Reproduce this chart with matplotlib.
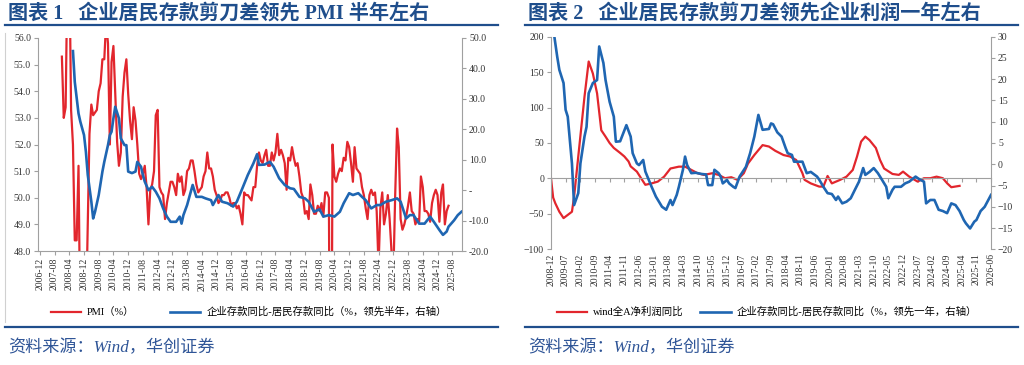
import matplotlib.pyplot as plt
import matplotlib.dates as mdates
from matplotlib.lines import Line2D
import pandas as pd

plt.rcParams['font.family'] = ['Noto Sans CJK SC', 'DejaVu Sans']

RED = '#e2262d'
BLUE = '#1f66b2'
NAVY = '#1f4e8c'
GRAY = '#a0a0a0'
TXT = '#333333'
SERIF = ['Liberation Serif', 'Noto Sans CJK SC']

# ---------------- panel 1 data ----------------
# PMI (%), monthly from 2007-12
pmi_start = '2007-12-01'
pmi = [55.3,
       53.0, 53.4, 58.4, 59.2, 53.3, 52.0, 48.4, 48.4, 51.2, 44.6, 38.8, 41.2,
       45.3, 49.0, 52.4, 53.5, 53.1, 53.2, 53.3, 54.0, 54.3, 55.2, 55.2, 56.6,
       55.8, 52.0, 55.1, 55.7, 53.9, 52.1, 51.2, 51.7, 53.8, 54.7, 55.2, 53.9,
       52.9, 52.2, 53.4, 52.9, 52.0, 50.9, 50.7, 50.9, 51.2, 50.4, 49.0, 50.3,
       50.5, 51.0, 53.1, 53.3, 50.4, 50.2, 50.1, 49.2, 49.8, 50.2, 50.6, 50.6,
       50.4, 50.1, 50.9, 50.6, 50.8, 50.1, 50.3, 51.0, 51.1, 51.4, 51.4, 51.0,
       50.5, 50.2, 50.3, 50.4, 50.8, 51.0, 51.7, 51.1, 51.1, 50.8, 50.3, 50.1,
       49.8, 49.9, 50.1, 50.1, 50.2, 50.2, 50.0, 49.7, 49.8, 49.8, 49.6, 49.7,
       49.4, 49.0, 50.2, 50.1, 50.1, 50.0, 49.9, 50.4, 50.4, 51.2, 51.7, 51.4,
       51.3, 51.6, 51.8, 51.2, 51.2, 51.7, 51.4, 51.7, 52.4, 51.6, 51.8, 51.6,
       51.3, 50.3, 51.5, 51.4, 51.9, 51.5, 51.2, 51.3, 50.8, 50.2, 50.0, 49.4,
       49.5, 49.2, 50.5, 50.1, 49.4, 49.4, 49.7, 49.5, 49.8, 49.3, 50.2, 50.2,
       50.0, 35.7, 52.0, 50.8, 50.6, 50.9, 51.1, 51.0, 51.5, 51.4, 52.1, 51.9,
       51.3, 50.6, 51.9, 51.1, 51.0, 50.9, 50.4, 50.1, 49.6, 49.2, 50.1, 50.3,
       50.1, 50.2, 49.5, 47.4, 49.6, 50.2, 49.0, 49.4, 50.1, 49.2, 48.0, 47.0,
       50.1, 52.6, 51.9, 49.2, 48.8, 49.0, 49.3, 49.7, 50.2, 49.5, 49.4, 49.0,
       49.2, 49.1, 50.8, 50.4, 49.5, 49.5, 49.4, 49.1, 49.8, 50.1, 50.3, 50.1,
       49.1, 50.2, 50.5, 49.0, 49.5, 49.7]

# enterprise minus household deposit growth (%, led by 6 months, right axis)
spread1_dates = ['2008-06', '2008-07', '2008-09', '2008-10', '2008-12', '2009-01', '2009-02', '2009-04', '2009-05', '2009-06',
                 '2009-08', '2009-10', '2009-11', '2010-01', '2010-02', '2010-03', '2010-04', '2010-05', '2010-07', '2010-08',
                 '2010-10', '2010-11', '2010-12', '2011-02', '2011-04', '2011-05', '2011-07', '2011-08', '2011-09', '2011-11',
                 '2012-01', '2012-03', '2012-05', '2012-07', '2012-09', '2012-11', '2013-02', '2013-04', '2013-05', '2013-06',
                 '2013-08', '2013-11', '2014-01', '2014-04', '2014-06', '2014-09', '2014-10', '2015-01', '2015-03', '2015-06',
                 '2015-09', '2015-11', '2016-02', '2016-05', '2016-08', '2016-10', '2016-11', '2017-02', '2017-05', '2017-07',
                 '2017-10', '2018-01', '2018-04', '2018-06', '2018-09', '2018-12', '2019-02', '2019-05', '2019-08', '2019-10',
                 '2020-01', '2020-04', '2020-07', '2020-09', '2020-12', '2021-02', '2021-05', '2021-07', '2021-09', '2021-12',
                 '2022-03', '2022-05', '2022-08', '2022-11', '2023-02', '2023-04', '2023-07', '2023-09', '2023-11', '2024-02',
                 '2024-05', '2024-08', '2024-10', '2025-01', '2025-03', '2025-05', '2025-06', '2025-09', '2025-11', '2026-01']
spread1 = [45.7, 35.6, 25.2, 22.5, 18.1, 12.6, 5.0, -3.8, -9.3, -7.1,
           -1.6, 6.1, 9.3, 14.8, 18.1, 19.2, 23.6, 27.4, 23.6, 17.0,
           14.8, 14.8, 6.1, 5.6, 6.1, 9.3, 7.7, 5.0, 2.8, 0.0,
           1.1, -0.5, -2.7, -6.0, -8.7, -10.4, -10.4, -8.7, -11.0, -8.2,
           -4.9, 1.7, -2.2, -2.2, -2.7, -3.3, -4.9, -1.6, -3.8, -4.3,
           -5.4, -3.8, 0.6, 5.0, 8.8, 11.8, 8.3, 8.4, 9.3, 7.7,
           3.9, 1.7, 0.6, 0.4, -2.2, -2.7, -3.8, -7.1, -6.3, -8.7,
           -8.2, -8.7, -7.1, -4.3, -1.0, -1.6, -1.0, -2.2, -3.3, -6.0,
           -4.9, -4.9, -3.8, -3.3, -2.7, -3.8, -9.3, -8.2, -8.2, -11.0,
           -11.0, -8.7, -10.4, -13.1, -14.7, -13.6, -12.0, -9.9, -8.2, -7.1]

ticks1 = ['2006-12', '2007-08', '2008-04', '2008-12', '2009-08', '2010-04', '2010-12', '2011-08',
          '2012-04', '2012-12', '2013-08', '2014-04', '2014-12', '2015-08', '2016-04', '2016-12',
          '2017-08', '2018-04', '2018-12', '2019-08', '2020-04', '2020-12', '2021-08', '2022-04',
          '2022-12', '2023-08', '2024-04', '2024-12', '2025-08']
left1_ticks = [48, 49, 50, 51, 52, 53, 54, 55, 56]
right1_ticks = [-20, -10, 0, 10, 20, 30, 40, 50]
right1_labels = ['-20.0', '-10.0', '-', '10.0', '20.0', '30.0', '40.0', '50.0']

# ---------------- panel 2 data ----------------
# wind All-A net profit yoy (%, left axis)
profit_dates = ['2008-12', '2009-01', '2009-02', '2009-04', '2009-06', '2009-08', '2009-10', '2009-11', '2010-01', '2010-02',
                '2010-04', '2010-06', '2010-08', '2010-10', '2010-12', '2011-02', '2011-04', '2011-06', '2011-09', '2011-11',
                '2012-01', '2012-02', '2012-05', '2012-07', '2012-09', '2012-12', '2013-03', '2013-06', '2013-09', '2014-01',
                '2014-04', '2014-07', '2014-10', '2015-01', '2015-05', '2015-08', '2015-11', '2016-02', '2016-05', '2016-08',
                '2016-10', '2017-01', '2017-05', '2017-08', '2017-11', '2018-03', '2018-06', '2018-09', '2018-12', '2019-01',
                '2019-04', '2019-08', '2019-10', '2019-12', '2020-02', '2020-06', '2020-09', '2020-12', '2021-02', '2021-04',
                '2021-06', '2021-08', '2021-11', '2022-01', '2022-03', '2022-07', '2022-10', '2022-12', '2023-03', '2023-07',
                '2023-10', '2024-01', '2024-04', '2024-07', '2024-09', '2024-11', '2025-03']
profit = [0, -27, -35, -47, -56, -51.5, -47, -26, 31, 60,
          115, 165, 148, 120, 68, 59, 50, 43, 36, 31,
          24, 17, 9.6, 0.3, -9, -7, -4.5, 2.5, 14, 16.6,
          16.6, 12, 7.3, 5, 7.3, 5, 0.3, 1.7, -2, 7.3,
          21, 33, 47, 45, 39, 33, 31, 26, 7.3, -2,
          -7, -11.5, -11.5, 3.5, -7, -2, 2.5, 12, 31, 52,
          59, 54, 43, 26, 14, 6.3, 5, 9.6, 2.5, -4.5,
          0.3, 0.3, 2.5, 0.3, -6.8, -12.4, -10.5]

# enterprise minus household deposit growth (%, led by 12 months, right axis)
spread2_dates = ['2009-01', '2009-03', '2009-04', '2009-06', '2009-07', '2009-08', '2009-10', '2009-11', '2010-01', '2010-02',
                 '2010-04', '2010-05', '2010-06', '2010-08', '2010-10', '2010-11', '2011-01', '2011-02', '2011-04', '2011-06',
                 '2011-07', '2011-09', '2011-12', '2012-02', '2012-03', '2012-05', '2012-06', '2012-08', '2012-09', '2012-12',
                 '2013-02', '2013-05', '2013-07', '2013-09', '2013-10', '2013-12', '2014-01', '2014-03', '2014-04', '2014-05',
                 '2014-07', '2014-09', '2014-12', '2015-02', '2015-03', '2015-05', '2015-06', '2015-08', '2015-09', '2015-10',
                 '2015-12', '2016-01', '2016-03', '2016-04', '2016-06', '2016-09', '2016-11', '2017-01', '2017-03', '2017-05',
                 '2017-08', '2017-09', '2017-10', '2017-12', '2018-02', '2018-04', '2018-05', '2018-07', '2018-08', '2018-10',
                 '2018-12', '2019-02', '2019-04', '2019-07', '2019-08', '2019-10', '2019-12', '2020-02', '2020-04', '2020-05',
                 '2020-07', '2020-09', '2020-11', '2021-01', '2021-03', '2021-05', '2021-06', '2021-08', '2021-10', '2021-12',
                 '2022-01', '2022-04', '2022-05', '2022-07', '2022-08', '2022-11', '2023-01', '2023-03', '2023-06', '2023-08',
                 '2023-10', '2023-11', '2024-01', '2024-03', '2024-05', '2024-07', '2024-09', '2024-11', '2025-01', '2025-03',
                 '2025-05', '2025-06', '2025-08', '2025-10', '2025-11', '2026-01', '2026-03', '2026-06']
spread2 = [32, 25.3, 22.2, 19.1, 12.8, 11.2, 0.2, -9.6, -6.8, 0.2,
           6.5, 8.8, 16.7, 19.1, 19.8, 27.7, 23.8, 19.8, 14.7, 11.2,
           5.3, 5.4, 9.2, 6.5, 2.6, 0.2, -0.2, 1.0, -1.7, -5.3,
           -7.6, -10.0, -10.7, -8.4, -9.6, -7.2, -5.3, -1.3, 1.8, -0.2,
           -2.1, -2.0, -2.3, -2.4, -4.9, -4.9, -1.3, -2.1, -2.9, -4.5,
           -3.7, -4.5, -5.3, -5.6, -2.9, -0.6, 2.6, 6.5, 11.6, 8.1,
           8.3, 9.6, 9.4, 7.5, 6.5, 3.8, 2.6, 2.2, 0.6, 0.6,
           0.6, -2.1, -1.8, -2.9, -3.6, -5.3, -6.8, -7.0, -8.4, -7.6,
           -9.2, -8.8, -8.0, -6.0, -4.1, -0.9, -2.5, -1.8, -0.9, -2.1,
           -2.9, -5.3, -8.0, -6.0, -5.3, -5.3, -4.5, -4.1, -2.9, -3.6,
           -4.1, -9.2, -8.4, -8.4, -10.7, -11.0, -11.5, -9.2, -9.6, -11.0,
           -13.1, -13.9, -15.1, -13.5, -13.1, -11.0, -10.0, -7.2]

ticks2 = ['2008-12', '2009-07', '2010-02', '2010-09', '2011-04', '2011-11', '2012-06', '2013-01',
          '2013-08', '2014-03', '2014-10', '2015-05', '2015-12', '2016-07', '2017-02', '2017-09',
          '2018-04', '2018-11', '2019-06', '2020-01', '2020-08', '2021-03', '2021-10', '2022-05',
          '2022-12', '2023-07', '2024-02', '2024-09', '2025-04', '2025-11', '2026-06']
left2_ticks = [-100, -50, 0, 50, 100, 150, 200]
right2_ticks = [-20, -15, -10, -5, 0, 5, 10, 15, 20, 25, 30]


def num(dates):
    return mdates.date2num(pd.to_datetime(dates))


def style_axes(ax, axr):
    for s in ['top', 'right']:
        ax.spines[s].set_visible(False)
    for s in ['top', 'left', 'bottom']:
        axr.spines[s].set_visible(False)
    for s in ['left', 'bottom']:
        ax.spines[s].set_color(GRAY)
    axr.spines['right'].set_color(GRAY)
    ax.tick_params(direction='out', length=3, width=0.8, color=GRAY,
                   labelsize=7, labelcolor=TXT, pad=2)
    axr.tick_params(direction='out', length=3, width=0.8, color=GRAY,
                    labelsize=7, labelcolor=TXT, pad=2)
    for lab in ax.get_yticklabels() + axr.get_yticklabels():
        lab.set_fontfamily('Liberation Serif')


fig = plt.figure(figsize=(10.24, 3.65), dpi=100)

# ---------------- panel 1 ----------------
ax1 = fig.add_axes([0.0371, 0.3123, 0.4141, 0.5836])
ax1r = ax1.twinx()
pmi_x = mdates.date2num(pd.date_range(pmi_start, periods=len(pmi), freq='MS'))
l1, = ax1.plot(pmi_x, pmi, color=RED, lw=1.6)
l2, = ax1r.plot(num(spread1_dates), spread1, color=BLUE, lw=1.9)
ax1.set_xlim(num('2006-11-01'), num('2026-01-10'))
ax1.set_ylim(48, 56)
ax1r.set_ylim(-20, 50)
ax1.set_yticks(left1_ticks, ['%.1f' % v for v in left1_ticks])
ax1r.set_yticks(right1_ticks, right1_labels)
ax1.set_xticks(num(ticks1), ticks1, rotation=90, fontfamily='Liberation Serif')
style_axes(ax1, ax1r)

fig.legend([l1, l2], ['PMI（%）', '企业存款同比-居民存款同比（%，领先半年，右轴）'],
           loc='center', bbox_to_anchor=(0.243, 0.145), ncol=2, frameon=False,
           prop={'family': SERIF, 'size': 7.5}, handlelength=2.9,
           handletextpad=0.6, columnspacing=3.4)

# ---------------- panel 2 ----------------
ax2 = fig.add_axes([0.5381, 0.3170, 0.4297, 0.5825])
ax2r = ax2.twinx()
l3, = ax2.plot(num(profit_dates), profit, color=RED, lw=1.6)
l4, = ax2r.plot(num(spread2_dates), spread2, color=BLUE, lw=1.9)
ax2.set_xlim(num('2008-12-01'), num('2026-06-01'))
ax2.set_ylim(-100, 200)
ax2r.set_ylim(-20, 30)
ax2.set_yticks(left2_ticks)
ax2r.set_yticks(right2_ticks)
ax2.set_xticks(num(ticks2))
style_axes(ax2, ax2r)
ax2.spines['bottom'].set_position(('data', 0))
ax2.tick_params(axis='x', labelbottom=False)
sec = ax2.secondary_xaxis('bottom')
sec.set_xticks(num(ticks2), ticks2, rotation=90, fontfamily='Liberation Serif')
sec.spines['bottom'].set_visible(False)
sec.tick_params(length=0, labelsize=7, labelcolor=TXT, pad=3)

fig.legend([l3, l4], ['wind全A净利润同比', '企业存款同比-居民存款同比（%，领先一年，右轴）'],
           loc='center', bbox_to_anchor=(0.749, 0.145), ncol=2, frameon=False,
           prop={'family': SERIF, 'size': 7.5}, handlelength=2.9,
           handletextpad=0.6, columnspacing=1.6)

# ---------------- titles, rules, sources ----------------
titles = ['图表 1   企业居民存款剪刀差领先 PMI 半年左右',
          '图表 2   企业居民存款剪刀差领先企业利润一年左右']
for x0, x1, title in [(0.005, 0.486, titles[0]), (0.513, 0.994, titles[1])]:
    fig.text(x0 + 0.003, 0.962, title, fontsize=14.5, fontweight='bold',
             color=NAVY, family=SERIF, va='center')
    fig.add_artist(Line2D([x0, x1], [0.931, 0.931], color=NAVY, lw=1.6))
    fig.add_artist(Line2D([x0, x1], [0.104, 0.104], color=NAVY, lw=1.6))
    fig.text(x0 + 0.003, 0.047, '资料来源：Wind，华创证券', fontsize=12.3,
             color='#2f5597', family=SERIF, style='italic', va='center')

fig.add_artist(Line2D([0.0045, 0.0045], [0.118, 0.91], color='#d0d0d0', lw=0.8))

fig.savefig('out.png', dpi=100)
